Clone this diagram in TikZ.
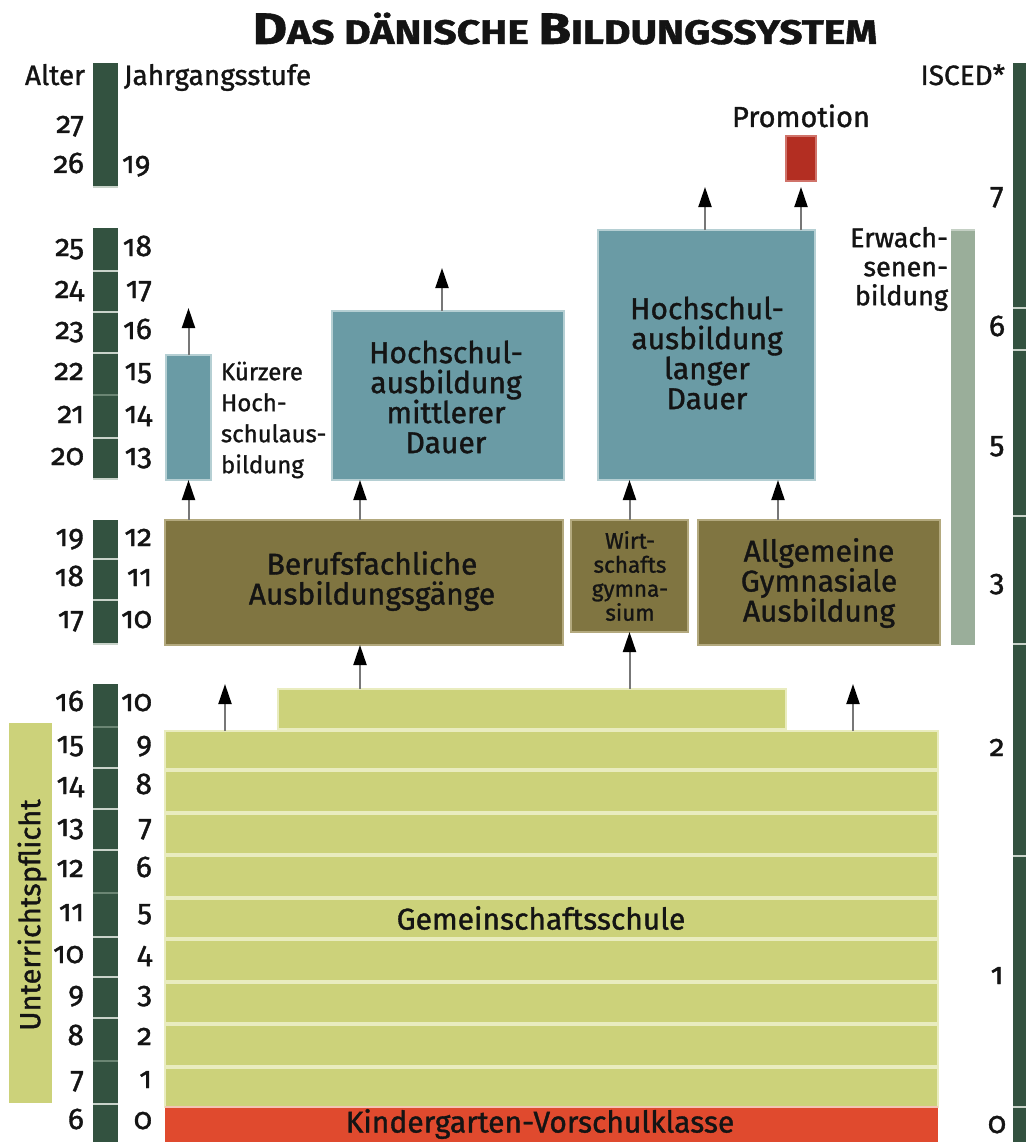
\documentclass[tikz,border=0pt]{standalone}
\usepackage{fontspec}
\setmainfont{Fira Sans}[Numbers=OldStyle, FakeBold=1.2]
\usetikzlibrary{arrows.meta,calc}
\definecolor{dgreen}{HTML}{335240}
\definecolor{seplt}{HTML}{C9D3CA}
\definecolor{sepmid}{HTML}{6B8573}
\definecolor{teal}{HTML}{6A9BA5}
\definecolor{teallt}{HTML}{B5CFD3}
\definecolor{olive}{HTML}{807541}
\definecolor{olivelt}{HTML}{B3A97E}
\definecolor{yg}{HTML}{CCD27A}
\definecolor{yglt}{HTML}{E9ECBF}
\definecolor{kred}{HTML}{E04A2E}
\definecolor{kredlt}{HTML}{F2C4B4}
\definecolor{pred}{HTML}{B32E22}
\definecolor{predlt}{HTML}{D0736A}
\definecolor{erw}{HTML}{9AAE9A}
\definecolor{erwlt}{HTML}{C4D0C4}
\definecolor{shaft}{HTML}{777777}
\definecolor{txt}{HTML}{141414}
\begin{document}
\begin{tikzpicture}[x=1pt,y=-1pt,
  every node/.style={inner sep=0pt, outer sep=0pt, text=txt},
  num/.style={font=\fontsize{30}{30}\selectfont, text height=14pt, text depth=2pt},
  lbl/.style={font=\fontsize{28}{28}\selectfont},
  boxt/.style={font=\fontsize{30}{30}\selectfont, align=center},
  smallt/.style={font=\fontsize{24}{31}\selectfont, align=left},
  tinyt/.style={font=\fontsize{22.5}{24}\selectfont, align=center},
  blk/.style={anchor=north west, minimum width=#1},
  arr/.style={draw=shaft, line width=2pt, -{Triangle[width=13pt,length=20pt,color=black]}}
]
\useasboundingbox (0,0) rectangle (1026,1142);
\fill[white] (0,0) rectangle (1026,1142);

% title
\node[anchor=base] (title) at (565,44) {\scalebox{1.2}[1]{\bfseries\fontsize{44}{44}\selectfont D\fontsize{34}{34}\selectfont AS DÄNISCHE \fontsize{44}{44}\selectfont B\fontsize{34}{34}\selectfont ILDUNGSSYSTEM}};

% headers
\node[lbl, anchor=base east] (alter) at (85,85) {Alter};
\node[lbl, anchor=base west] (jahrg) at (124,85) {Jahrgangsstufe};
\node[lbl, anchor=base east] (isced) at (1005,85) {ISCED*};

% age bars
\fill[dgreen] (93,63) rectangle (118,188);
\fill[dgreen] (93,228) rectangle (118,480);
\fill[dgreen] (93,520) rectangle (118,645);
\fill[dgreen] (93,684) rectangle (118,1142);
\foreach \y in {187,271,312,353,438,479,559,600,644,768,809,850,937,977,1018,1104}
  \draw[seplt, line width=2.5pt] (93,\y) -- (118,\y);
\foreach \y in {395,727,893,1061}
  \draw[sepmid, line width=2.5pt] (93,\y) -- (118,\y);

% age / grade numbers
\node[num, anchor=east] (age27) at (84,127) {27};
\node[num, anchor=east] (age26) at (84,167) {26};
\node[num, anchor=west] (jg26) at (122,167) {19};
\foreach \a/\j/\y in {25/18/250,24/17/292,23/16/333,22/15/374,21/14/417,20/13/459,19/12/540,18/11/580,17/10/622,16/10/705,15/9/747,14/8/788,13/7/830,12/6/871,11/5/915,10/4/957,9/3/997,8/2/1039,7/1/1082,6/0/1123}{
  \node[num, anchor=east] (age\a) at (84,\y) {\a};
  \node[num, anchor=east] (jg\a) at (152,\y) {\j};
}

% ISCED bar
\fill[dgreen] (1013,63) rectangle (1026,1142);
\foreach \y in {308,350,516,644,856,1107}
  \draw[seplt, line width=2.5pt] (1013,\y) -- (1026,\y);
\foreach \i/\y in {7/198,6/330,5/447,3/585,2/750,1/978,0/1127}
  \node[num] (isc\i) at (997,\y) {\i};

% Erwachsenenbildung
\fill[erw] (951,229) rectangle (975,645);
\draw[erwlt, line width=2pt] (951,230) -- (975,230);
\node[font=\fontsize{27}{29}\selectfont, align=right, anchor=east] (erwt) at (948,269) {Erwach-\\senen-\\bildung};

% Unterrichtspflicht
\node[fill=yg, anchor=north west, minimum width=43pt, minimum height=380pt] (upfl) at (9,723) {};
\node[rotate=90, font=\fontsize{29}{29}\selectfont] (upflt) at (32,915) {Unterrichtspflicht};

% Gemeinschaftsschule
\node[fill=yg, draw=yglt, line width=1.5pt, blk=773pt, minimum height=376pt] (grund) at (165,731) {};
\foreach \y in {770,813,855,898,939,982,1024,1067}
  \draw[yglt, line width=4pt] (165,\y) -- (938,\y);
\node[font=\fontsize{30}{30}\selectfont] (grundt) at (541,918) {Gemeinschaftsschule};
\node[fill=yg, draw=yglt, line width=1.5pt, blk=508pt, minimum height=40pt] (step) at (278,689) {};

% Kindergarten
\node[fill=kred, blk=773pt, minimum height=35pt] (kinder) at (165,1107) {};
\draw[kredlt, line width=2pt] (165,1107) -- (938,1107);
\node[font=\fontsize{30}{30}\selectfont] (kindert) at (540,1124) {Kindergarten-Vorschulklasse};

% upper secondary
\node[fill=olive, draw=olivelt, line width=1.5pt, blk=398pt, minimum height=125pt] (beruf) at (165,520) {};
\node[boxt] (beruft) at (372,581) {Berufsfachliche\\Ausbildungsgänge};
\node[fill=olive, draw=olivelt, line width=1.5pt, blk=117pt, minimum height=112pt] (wirt) at (571,520) {};
\node[tinyt] (wirtt) at (630,576) {Wirt-\\schafts\\gymna-\\sium};
\node[fill=olive, draw=olivelt, line width=1.5pt, blk=242pt, minimum height=125pt] (allg) at (698,520) {};
\node[boxt] (allgt) at (819,583) {Allgemeine\\Gymnasiale\\Ausbildung};

% tertiary
\node[fill=teal, draw=teallt, line width=1.5pt, blk=45pt, minimum height=125pt] (kurz) at (166,355) {};
\node[smallt, anchor=west] (kurzt) at (221,420) {Kürzere\\Hoch-\\schulaus-\\bildung};
\node[fill=teal, draw=teallt, line width=1.5pt, blk=232pt, minimum height=169pt] (mittl) at (332,311) {};
\node[boxt] (mittlt) at (446,397) {Hochschul-\\ausbildung\\mittlerer\\Dauer};
\node[fill=teal, draw=teallt, line width=1.5pt, blk=217pt, minimum height=250pt] (lang) at (598,230) {};
\node[boxt] (langt) at (707,353) {Hochschul-\\ausbildung\\langer\\Dauer};

% Promotion
\node[fill=pred, draw=predlt, line width=1.5pt, blk=30pt, minimum height=45pt] (promo) at (786,136) {};
\node[font=\fontsize{29}{29}\selectfont, anchor=base] (promot) at (801,127) {Promotion};

% free arrow ends
\coordinate (upA) at (225,684);
\coordinate (upB) at (853,684);
\coordinate (upK) at ($(kurz.north)+(0,-47)$);
\coordinate (upM) at (442,268);
\coordinate (upL) at (705,187);

% arrows
\draw[arr] (grund.north -| upA) -- (upA);
\draw[arr] (grund.north -| upB) -- (upB);
\draw[arr] ($(step.north -| beruf.south)+(-4,0)$) -- ($(beruf.south)+(-4,0)$);
\draw[arr] (step.north -| wirt.south) -- (wirt.south);
\draw[arr] (beruf.north -| kurz.south) -- (kurz.south);
\draw[arr] ($(beruf.north)+(-4,0)$) -- ($(beruf.north |- mittl.south)+(-4,0)$);
\draw[arr] (wirt.north) -- (wirt.north |- lang.south);
\draw[arr] ($(allg.north)+(-41,0)$) -- ($(allg.north |- lang.south)+(-41,0)$);
\draw[arr] (kurz.north) -- (upK);
\draw[arr] (mittl.north -| upM) -- (upM);
\draw[arr] (lang.north -| upL) -- (upL);
\draw[arr, shorten >=6pt] (lang.north -| promo.south) -- (promo.south);
\end{tikzpicture}
\end{document}
